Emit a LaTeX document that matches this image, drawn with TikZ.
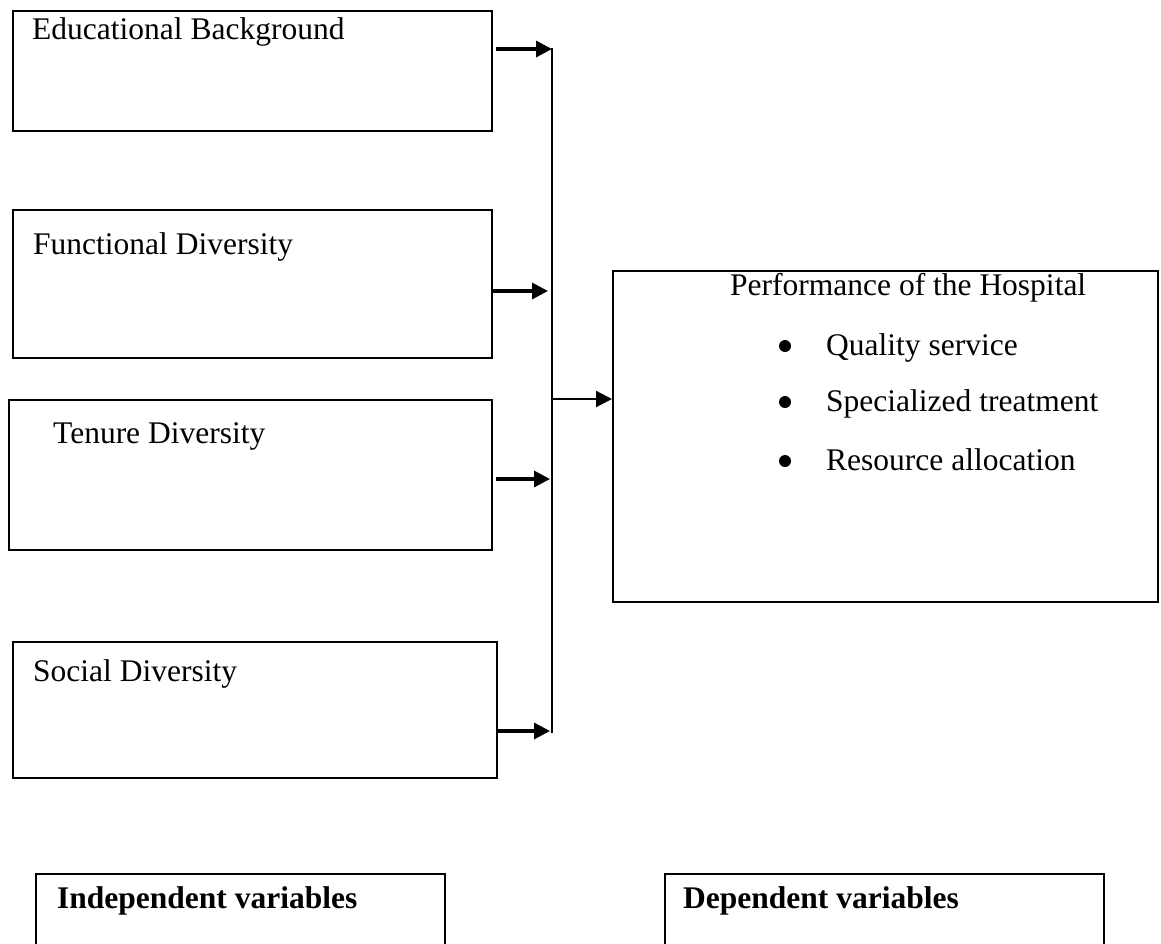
\documentclass[tikz,border=0pt]{standalone}
\usepackage{fontspec}
\setmainfont{Liberation Serif}
\usetikzlibrary{arrows.meta}
\tikzset{
  box/.style={draw, line width=2.2pt, rectangle, inner sep=0pt, anchor=north west},
  lbl/.style={anchor=base west, inner sep=0pt, font=\fontsize{31.5}{37}\selectfont},
  blbl/.style={anchor=base west, inner sep=0pt, font=\fontsize{31.5}{37}\selectfont\bfseries},
  arr/.style={line width=3.2pt, -{Triangle[length=16pt,width=16pt]}},
  bus/.style={line width=2.2pt}
}
\begin{document}
\begin{tikzpicture}[x=1pt,y=-1pt]
\useasboundingbox (0,0) rectangle (1161,943);
% boxes
\node[box, minimum width=479pt, minimum height=120pt] (A) at (12,10) {};
\node[box, minimum width=479pt, minimum height=148pt] (B) at (12,209) {};
\node[box, minimum width=483pt, minimum height=150pt] (C) at (8,399) {};
\node[box, minimum width=484pt, minimum height=136pt] (D) at (12,641) {};
\node[box, minimum width=545pt, minimum height=331pt] (P) at (612,270) {};
\node[box, minimum width=409pt, minimum height=100pt] (I) at (35,873) {};
\node[box, minimum width=439pt, minimum height=100pt] (Dv) at (664,873) {};
% texts
\node[lbl] (tA) at (32,39) {Educational Background};
\node[lbl] (tB) at (33,254) {Functional Diversity};
\node[lbl] (tC) at (53,443) {Tenure Diversity};
\node[lbl] (tD) at (33,681) {Social Diversity};
\node[lbl] (tP) at (730,295) {Performance of the Hospital};
\node[lbl] (b1) at (826,355) {Quality service};
\node[lbl] (b2) at (826,411) {Specialized treatment};
\node[lbl] (b3) at (826,470) {Resource allocation};
\fill (785,346) circle (6pt);
\fill (785,402) circle (6pt);
\fill (785,461) circle (6pt);
\node[blbl] (tI) at (57,908) {Independent variables};
\node[blbl] (tDv) at (683,908) {Dependent variables};
% connectors
\coordinate (sA) at (496,49);  \coordinate (eA) at (552,49);
\coordinate (sB) at (492,291); \coordinate (eB) at (548,291);
\coordinate (sC) at (496,479); \coordinate (eC) at (550,479);
\coordinate (sD) at (496,731); \coordinate (eD) at (550,731);
\coordinate (top) at (552,48); \coordinate (bot) at (552,733);
\coordinate (sP) at (552,399);
\draw[bus] (top) -- (bot);
\draw[arr] (sA) -- (eA);
\draw[arr] (sB) -- (eB);
\draw[arr] (sC) -- (eC);
\draw[arr] (sD) -- (eD);
\draw[line width=2.2pt, -{Triangle[length=16pt,width=16pt]}] (sP) -- (P.west |- sP);
\end{tikzpicture}
\end{document}
